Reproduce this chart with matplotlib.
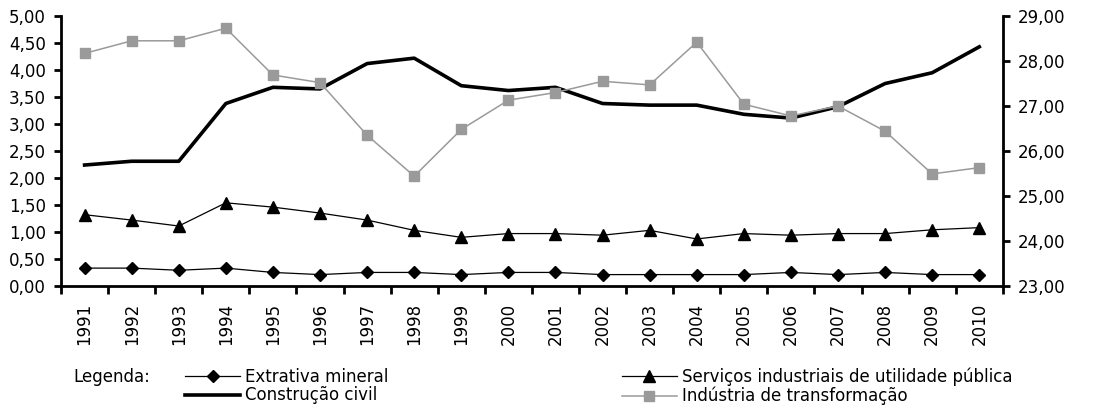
import matplotlib.pyplot as plt
from matplotlib.lines import Line2D
from matplotlib.ticker import FuncFormatter, FixedLocator
import numpy as np

anos = [str(a) for a in range(1991, 2011)]

extrativa = [0.33, 0.33, 0.29, 0.33, 0.25, 0.21, 0.25, 0.25, 0.21, 0.25,
             0.25, 0.21, 0.21, 0.21, 0.21, 0.25, 0.21, 0.25, 0.21, 0.21]
servicos = [1.32, 1.22, 1.11, 1.54, 1.46, 1.35, 1.22, 1.03, 0.90, 0.97,
            0.97, 0.94, 1.03, 0.87, 0.97, 0.94, 0.97, 0.97, 1.04, 1.08]
construcao = [2.24, 2.31, 2.31, 3.38, 3.68, 3.65, 4.12, 4.22, 3.71, 3.62,
              3.68, 3.38, 3.35, 3.35, 3.18, 3.11, 3.32, 3.75, 3.95, 4.43]
# eixo secundario
transformacao = [28.17, 28.45, 28.45, 28.73, 27.69, 27.52, 26.35, 25.44, 26.48, 27.13,
                 27.30, 27.55, 27.47, 28.42, 27.04, 26.78, 27.00, 26.44, 25.49, 25.63]

cinza = "#9a9a9a"

fig = plt.figure(figsize=(11.02, 4.12), dpi=100)
ax = fig.add_axes([0.0554, 0.306, 0.8546, 0.655])

x = np.arange(len(anos))

ax.plot(x, extrativa, color="black", linewidth=0.9, marker="D", markersize=6.5,
        label="Extrativa mineral")
ax.plot(x, servicos, color="black", linewidth=0.9, marker="^", markersize=8,
        label="Serviços industriais de utilidade pública")
ax.plot(x, construcao, color="black", linewidth=2.6, label="Construção civil")

ax2 = ax.twinx()
ax2.plot(x, transformacao, color=cinza, linewidth=1.1, marker="s", markersize=7.5,
         label="Indústria de transformação")

ax.set_xlim(-0.5, len(anos) - 0.5)
ax.set_ylim(0, 5)
ax2.set_ylim(23, 29)
ax.set_yticks(np.arange(0, 5.01, 0.5))
ax2.set_yticks(np.arange(23, 29.01, 1))

fmt = FuncFormatter(lambda v, p: f"{v:.2f}".replace(".", ","))
ax.yaxis.set_major_formatter(fmt)
ax2.yaxis.set_major_formatter(fmt)

ax.set_xticks(x)
ax.set_xticklabels(anos, rotation=90)
ax.xaxis.set_minor_locator(FixedLocator(np.arange(-0.5, len(anos), 1)))

ax.tick_params(axis="x", which="major", length=0, pad=12, labelsize=12)
ax.tick_params(axis="x", which="minor", length=6, width=2, direction="out")
ax.tick_params(axis="y", length=5, width=2, direction="out", pad=6, labelsize=12)
ax2.tick_params(axis="y", length=5, width=2, direction="out", pad=6, labelsize=12)

for a in (ax, ax2):
    a.spines["top"].set_visible(False)
    for s in ("left", "right", "bottom"):
        a.spines[s].set_linewidth(2)
ax.spines["right"].set_visible(False)
ax2.spines["left"].set_visible(False)
ax2.spines["bottom"].set_visible(False)

# legenda
fig.text(73 / 1102, 0.085, "Legenda:", fontsize=12, va="center", ha="left")

h_ext = Line2D([], [], color="black", linewidth=0.9, marker="D", markersize=6.5)
h_con = Line2D([], [], color="black", linewidth=2.6)
h_ser = Line2D([], [], color="black", linewidth=0.9, marker="^", markersize=8)
h_tra = Line2D([], [], color=cinza, linewidth=1.1, marker="s", markersize=7.5)

leg_kw = dict(loc="upper left", frameon=False, fontsize=12, borderpad=0,
              borderaxespad=0, handlelength=3.3, handletextpad=0.3,
              labelspacing=0.05)
fig.legend([h_ext, h_con], ["Extrativa mineral", "Construção civil"],
           bbox_to_anchor=(185 / 1102, 0.108), **leg_kw)
fig.legend([h_ser, h_tra], ["Serviços industriais de utilidade pública",
                            "Indústria de transformação"],
           bbox_to_anchor=(622 / 1102, 0.108), **leg_kw)

fig.savefig("out.png", dpi=100)
